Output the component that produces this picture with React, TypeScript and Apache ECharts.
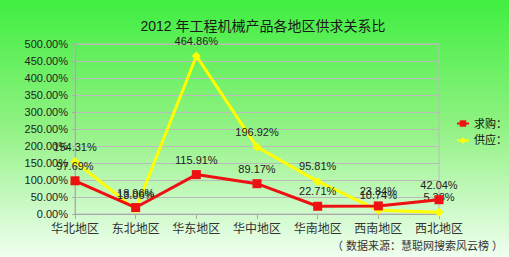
import React, { useEffect, useRef } from "react";
import * as echarts from "echarts";

const categories = ["华北地区", "东北地区", "华东地区", "华中地区", "华南地区", "西南地区", "西北地区"];
const demand = [97.69, 18.96, 115.91, 89.17, 22.71, 23.84, 42.04];
const supply = [154.31, 13.06, 464.86, 196.92, 95.81, 10.74, 5.38];
const seriesNames = ["求购：", "供应："];

export default function App() {
  const ref = useRef<HTMLDivElement>(null);
  useEffect(() => {
    if (!ref.current) return;
    const chart = echarts.init(ref.current, null, { renderer: "svg" });
    const font = "Arial, 'Liberation Sans', 'Noto Sans CJK SC', sans-serif";
    chart.setOption({
      animation: false,
      backgroundColor: {
        type: "linear", x: 0, y: 0, x2: 0, y2: 1,
        colorStops: [
          { offset: 0, color: "#40ee40" },
          { offset: 0.5, color: "#92f284" },
          { offset: 1, color: "#f0fff0" },
        ],
      },
      title: {
        text: "2012 年工程机械产品各地区供求关系比",
        left: 258, top: 14, textAlign: "center",
        textStyle: { fontSize: 14, fontWeight: "normal", color: "#1a1a1a", fontFamily: font },
      },
      legend: {
        orient: "vertical", left: 451, top: 113, itemGap: 6, itemWidth: 12, itemHeight: 8,
        textStyle: { fontSize: 11, color: "#111", fontFamily: font },
        data: seriesNames,
      },
      graphic: [
        {
          type: "text", left: 332, top: 240,
          style: { text: "（ 数据来源：慧聪网搜索风云榜 ）", fontSize: 11, fill: "#333", fontFamily: font },
        },
      ],
      grid: { left: 75, right: 70, top: 44, bottom: 43, show: true, borderColor: "#bbbbbb", borderWidth: 1 },
      xAxis: {
        type: "category", data: categories, boundaryGap: false,
        axisLine: { lineStyle: { color: "#aaaaaa" } },
        axisTick: { show: true, lineStyle: { color: "#aaaaaa" } },
        axisLabel: { interval: 0, fontSize: 12, color: "#333", margin: 9, fontFamily: font },
      },
      yAxis: {
        type: "value", min: 0, max: 500, interval: 50,
        axisLine: { show: true, lineStyle: { color: "#aaaaaa" } },
        axisTick: { show: true, length: 3, lineStyle: { color: "#aaaaaa" } },
        splitLine: { lineStyle: { color: "#bbbbbb" } },
        axisLabel: { fontSize: 11, color: "#222", margin: 7, fontFamily: font, formatter: (v: number) => v.toFixed(2) + "%" },
      },
      series: [
        {
          name: seriesNames[0], type: "line", data: demand,
          symbol: "rect", symbolSize: 9,
          lineStyle: { color: "#ee1111", width: 3 },
          itemStyle: { color: "#ee1111" },
          label: { show: true, position: "top", fontSize: 11, color: "#222", fontFamily: font, formatter: (p: any) => p.value.toFixed(2) + "%" },
          z: 3,
        },
        {
          name: seriesNames[1], type: "line", data: supply,
          symbol: "diamond", symbolSize: 9,
          lineStyle: { color: "#ffff00", width: 3 },
          itemStyle: { color: "#ffff00" },
          label: { show: true, position: "top", fontSize: 11, color: "#222", fontFamily: font, formatter: (p: any) => p.value.toFixed(2) + "%" },
          z: 2,
        },
      ],
    });
    return () => chart.dispose();
  }, []);
  return <div ref={ref} style={{ width: 509, height: 257, position: "absolute", left: 0, top: 0 }} />;
}
